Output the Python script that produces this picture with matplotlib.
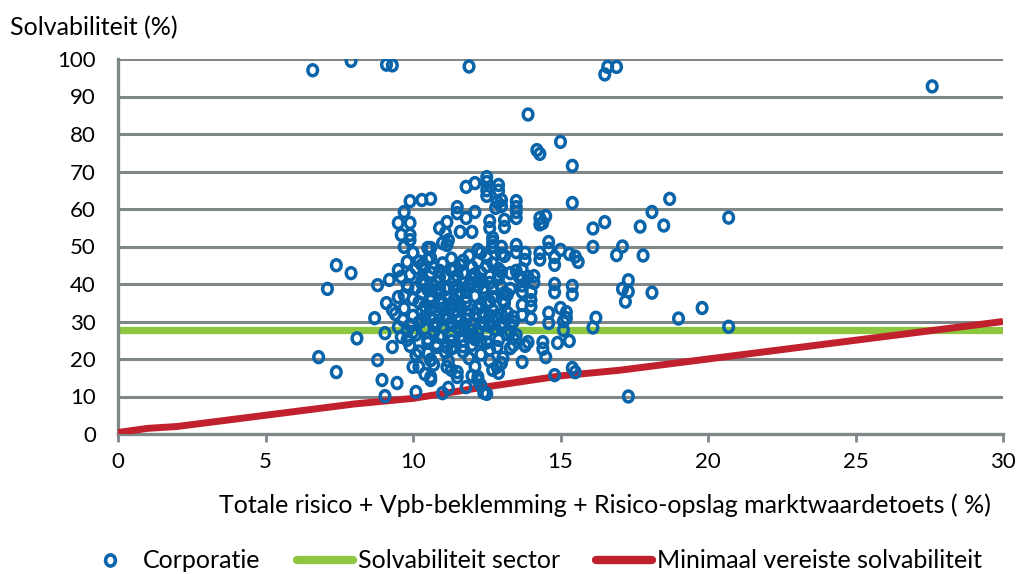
import matplotlib.pyplot as plt
from matplotlib.lines import Line2D
from matplotlib.path import Path
from matplotlib.transforms import Affine2D

# Corporaties: totale risico (x) en solvabiliteit (y)
corp_x = [
    6.6, 7.9, 9.1, 9.3, 11.9, 16.5, 16.6, 16.9, 27.6, 13.9, 15.0, 14.3, 15.4, 15.4,
    18.7, 18.1, 17.7, 18.5, 20.7, 16.1, 16.1, 16.9, 17.8, 17.1, 17.2, 18.1, 19.0, 19.8,
    20.7, 16.1, 15.4, 14.8, 15.0, 14.6, 15.1, 15.1, 15.3, 14.9, 14.3, 14.6, 15.0, 15.3,
    15.5, 15.6, 14.8, 14.3, 14.4, 13.5, 13.5, 12.9, 12.5, 12.5, 12.8, 13.0, 12.6, 13.1,
    12.7, 12.7, 13.0, 13.1, 13.5, 13.8, 13.5, 13.7, 13.0, 12.9, 13.7, 13.7, 14.1, 14.0,
    13.3, 13.1, 13.7, 14.0, 14.0, 13.7, 13.3, 13.3, 13.0, 12.6, 12.6, 13.4, 13.8, 14.4,
    13.1, 14.1, 14.8, 15.4, 14.6, 15.2, 15.2, 14.4, 14.5, 14.8, 15.4, 15.5, 12.5, 13.7,
    13.8, 13.9, 13.4, 13.5, 13.3, 13.05, 13.0, 12.85, 12.7, 12.9, 12.2, 12.2, 12.0, 13.4,
    13.4, 13.7, 14.0, 13.05, 13.2, 12.9, 12.85, 13.6, 13.9, 13.3, 13.0, 12.6, 12.5, 12.4,
    12.6, 8.8, 8.7, 8.8, 8.95, 9.05, 9.46, 10.1, 11.0, 11.2, 10.6, 10.6, 10.0, 10.2,
    11.15, 11.3, 11.5, 11.8, 10.6, 10.1, 9.05, 9.3, 9.1, 9.2, 9.6, 9.8, 9.5, 9.3,
    9.66, 9.9, 9.6, 9.8, 10.5, 10.8, 11.15, 6.8, 7.4, 7.4, 7.9, 7.1, 8.1, 9.5,
    9.7, 9.9, 9.6, 9.9, 9.9, 9.9, 9.7, 10.0, 9.8, 9.5, 9.83, 10.3, 10.6, 10.5,
    10.6, 10.4, 10.3, 10.7, 10.9, 11.15, 11.1, 11.2, 11.0, 11.15, 11.5, 11.5, 11.8, 11.6,
    12.0, 12.1, 11.8, 12.1, 12.5, 12.5, 12.9, 12.85, 13.0, 13.5, 13.5, 13.1, 12.6, 14.3,
    14.5, 14.6, 14.3, 14.8, 13.5, 12.7, 12.7, 13.0, 13.8, 12.2, 12.3, 16.2, 16.5, 17.1,
    17.3, 17.3, 17.3, 12.4, 14.2,
    10.2, 10.6, 11.0, 11.3, 11.6, 11.9, 12.2, 12.5, 12.0, 10.9, 11.4, 12.7,
    9.9, 10.3, 10.6, 10.8, 11.1, 11.4, 11.7, 12.0, 12.3, 12.6, 12.9, 11.5, 10.1, 10.5, 12.2,
    9.7, 10.0, 10.3, 10.6, 10.9, 11.2, 11.5, 11.8, 12.1, 12.4, 12.7, 11.0, 11.6, 12.3, 10.4,
    9.4, 9.7, 10.0, 10.3, 10.6, 10.9, 11.2, 11.5, 11.8, 12.1, 12.4, 12.7, 13.0, 11.3, 10.2, 12.0,
    9.5, 9.8, 10.1, 10.4, 10.7, 11.0, 11.3, 11.6, 11.9, 12.2, 12.5, 12.8, 10.5, 11.7, 12.3,
    9.9, 10.2, 10.5, 10.8, 11.1, 11.4, 11.7, 12.0, 12.3, 12.6, 11.9, 11.2, 10.7,
    12.1, 11.5, 10.4, 12.6, 12.3, 10.9, 11.4, 11.8, 12.2, 10.8, 11.3, 11.7, 12.4,
    10.4, 10.8, 11.2, 11.6, 12.0, 12.4, 10.6, 11.0, 11.4, 11.8, 12.2, 10.3, 10.7, 11.1,
    11.5, 11.9, 12.3, 10.9, 11.3, 11.7, 12.1,
    10.1, 10.5, 10.9, 11.3, 11.7, 12.1, 12.5, 12.9, 13.2, 10.3, 10.7, 11.1, 11.5, 11.9,
    12.3, 12.7, 13.1, 10.2, 10.6, 11.0, 11.4, 11.8, 12.2, 12.6, 13.0, 10.4, 10.8, 11.2,
    11.6, 12.0, 12.4, 12.8, 10.0, 10.9, 11.7, 12.5, 13.2, 11.3, 12.1, 10.6,
]
corp_y = [
    97.0, 99.5, 98.5, 98.3, 98.0, 95.9, 97.9, 97.9, 92.7, 85.2, 77.9, 74.7, 71.5, 61.6,
    62.7, 59.2, 55.3, 55.6, 57.7, 54.8, 49.9, 47.7, 47.6, 38.7, 35.3, 37.7, 30.8, 33.6,
    28.6, 28.4, 37.2, 37.8, 33.6, 29.6, 30.1, 27.7, 24.8, 24.3, 46.5, 49.4, 49.1, 48.0,
    47.3, 45.9, 45.1, 55.9, 56.3, 60.5, 57.6, 64.9, 67.2, 63.5, 60.3, 60.8, 54.9, 55.2,
    51.2, 50.1, 48.0, 47.5, 48.5, 46.4, 43.5, 44.0, 43.2, 41.6, 41.6, 39.6, 40.3, 37.9,
    38.7, 37.6, 37.9, 34.0, 30.8, 31.7, 29.2, 27.2, 28.3, 31.5, 28.8, 23.7, 23.5, 22.7,
    35.2, 42.1, 40.0, 39.5, 32.3, 32.5, 30.9, 24.5, 20.5, 15.7, 17.6, 16.5, 10.7, 19.2,
    23.7, 24.5, 25.6, 26.4, 22.9, 20.3, 18.9, 17.9, 17.1, 16.3, 15.2, 14.4, 15.5, 31.2,
    29.9, 34.4, 35.7, 35.7, 32.3, 25.1, 23.2, 41.9, 41.9, 42.9, 39.2, 40.3, 34.9, 32.3,
    29.6, 39.7, 30.9, 19.7, 14.4, 10.1, 13.6, 11.2, 10.9, 12.3, 14.4, 15.2, 17.9, 17.9,
    17.9, 17.1, 15.2, 12.5, 19.7, 21.1, 26.9, 23.2, 34.9, 41.1, 41.9, 39.7, 36.5, 33.1,
    30.4, 29.1, 25.9, 25.1, 24.3, 23.2, 23.2, 20.5, 16.5, 45.0, 42.9, 38.7, 25.5, 56.3,
    59.2, 62.1, 53.1, 56.3, 53.1, 51.7, 49.9, 48.3, 45.9, 43.7, 39.2, 62.4, 62.7, 49.6,
    49.6, 44.5, 45.1, 44.3, 54.9, 56.5, 53.6, 51.7, 50.9, 50.4, 60.5, 58.9, 57.6, 53.9,
    53.9, 59.2, 65.9, 66.9, 68.5, 65.0, 66.4, 61.9, 62.4, 62.1, 59.2, 57.1, 56.8, 57.6,
    58.1, 51.2, 48.3, 47.2, 50.4, 52.3, 49.9, 49.9, 48.3, 49.1, 48.3, 31.0, 56.5, 50.0,
    41.0, 38.0, 10.0, 11.0, 75.7,
    46.0, 47.0, 45.5, 46.8, 45.0, 47.5, 46.0, 47.0, 44.5, 43.5, 44.0, 45.5,
    42.5, 41.0, 43.0, 40.5, 42.0, 41.0, 43.0, 41.5, 43.0, 42.0, 44.0, 39.5, 39.0, 38.5, 39.5,
    37.0, 36.0, 37.5, 35.5, 37.8, 36.2, 37.0, 35.2, 36.8, 38.0, 36.5, 34.8, 34.0, 34.5, 34.0,
    32.0, 33.5, 31.5, 32.8, 30.8, 32.2, 31.0, 32.8, 30.5, 32.0, 31.2, 33.0, 31.8, 29.8, 29.8, 29.2,
    28.5, 27.5, 26.5, 28.2, 27.0, 28.8, 26.3, 27.8, 26.0, 27.5, 26.8, 28.0, 25.3, 25.0, 24.8,
    23.5, 22.0, 21.5, 24.0, 21.8, 23.2, 22.0, 23.8, 21.2, 22.5, 20.2, 19.5, 18.5,
    18.0, 16.5, 16.0, 19.5, 13.0, 38.8, 39.0, 38.2, 40.8, 33.0, 34.5, 29.0, 29.5,
    40.0, 38.0, 39.2, 37.6, 40.2, 39.0, 33.2, 35.0, 34.2, 36.5, 33.5, 30.2, 29.0, 30.5,
    28.4, 31.8, 29.6, 26.0, 24.8, 23.4, 25.8,
    44.2, 46.5, 41.8, 43.6, 46.2, 42.6, 44.8, 42.3, 37.2, 40.2, 39.4, 38.6, 42.2, 39.8,
    41.2, 38.9, 34.8, 35.1, 36.7, 33.4, 35.8, 37.9, 33.6, 35.3, 29.6, 31.2, 29.4, 33.9,
    30.6, 27.6, 29.1, 31.4, 27.2, 25.9, 28.9, 24.4, 26.6, 22.8, 25.3, 19.8,
]

# Solvabiliteit sector
sector_x = [0, 30]
sector_y = [27.7, 27.7]

# Minimaal vereiste solvabiliteit
min_x = [0, 1, 2, 5, 8, 10, 12, 15, 17, 20, 23, 24, 30]
min_y = [0.4, 1.5, 2.0, 5.0, 8.0, 9.5, 12.0, 15.5, 17.0, 20.0, 23.0, 24.0, 30.0]

blue = '#0a64aa'
green = '#8dc63f'
red = '#c1202d'
grey = '#808789'

plt.rcParams['font.family'] = ['Lato', 'DejaVu Sans']
fs_tick = 16
fs_text = 18

# iets hoger dan breed, zoals in het origineel
oval = Path.unit_circle().transformed(Affine2D().scale(0.88, 1.0))

fig = plt.figure(figsize=(10.2, 5.74), dpi=100)
ax = fig.add_axes([118 / 1020, 1 - 434 / 574, (1003 - 118) / 1020, (434 - 59) / 574])

for y in range(10, 101, 10):
    ax.axhline(y, color=grey, lw=2.2, zorder=1)

ax.plot(sector_x, sector_y, color=green, lw=5.2, zorder=2, solid_capstyle='butt')
ax.plot(min_x, min_y, color=red, lw=5, zorder=3, solid_capstyle='butt')
ax.scatter(corp_x, corp_y, s=62, marker=oval, facecolors='none', edgecolors=blue,
           linewidths=2.5, zorder=4)

ax.set_xlim(0, 30)
ax.set_ylim(0, 100)
ax.set_xticks(range(0, 31, 5))
ax.set_yticks(range(0, 101, 10))
ax.tick_params(axis='x', colors=grey, length=6, width=2, pad=7, labelsize=fs_tick, labelcolor='black')
ax.tick_params(axis='y', length=0, pad=16, labelsize=fs_tick)
for s in ['top', 'right']:
    ax.spines[s].set_visible(False)
for s in ['left', 'bottom']:
    ax.spines[s].set_color(grey)
    ax.spines[s].set_linewidth(2.4)

fig.text(10 / 1020, 1 - 28 / 574, 'Solvabiliteit (%)', fontsize=fs_text, va='center', ha='left')
fig.text(605 / 1020, 1 - 505 / 574, 'Totale risico + Vpb-beklemming + Risico-opslag marktwaardetoets ( %)',
         fontsize=fs_text, va='center', ha='center')

handles = [
    Line2D([], [], marker=oval, ls='none', markerfacecolor='none', markeredgecolor=blue,
           markeredgewidth=2.6, markersize=8),
    Line2D([], [], color=green, lw=6, solid_capstyle='round'),
    Line2D([], [], color=red, lw=6, solid_capstyle='round'),
]
labels = ['Corporatie', 'Solvabiliteit sector', 'Minimaal vereiste solvabiliteit']
fig.legend(handles, labels, ncol=3, loc='center', bbox_to_anchor=(532 / 1020, 1 - 561 / 574),
           frameon=False, fontsize=fs_text, handlelength=2.25, handletextpad=0.2, columnspacing=1.45)

fig.savefig('out.png', dpi=100)
